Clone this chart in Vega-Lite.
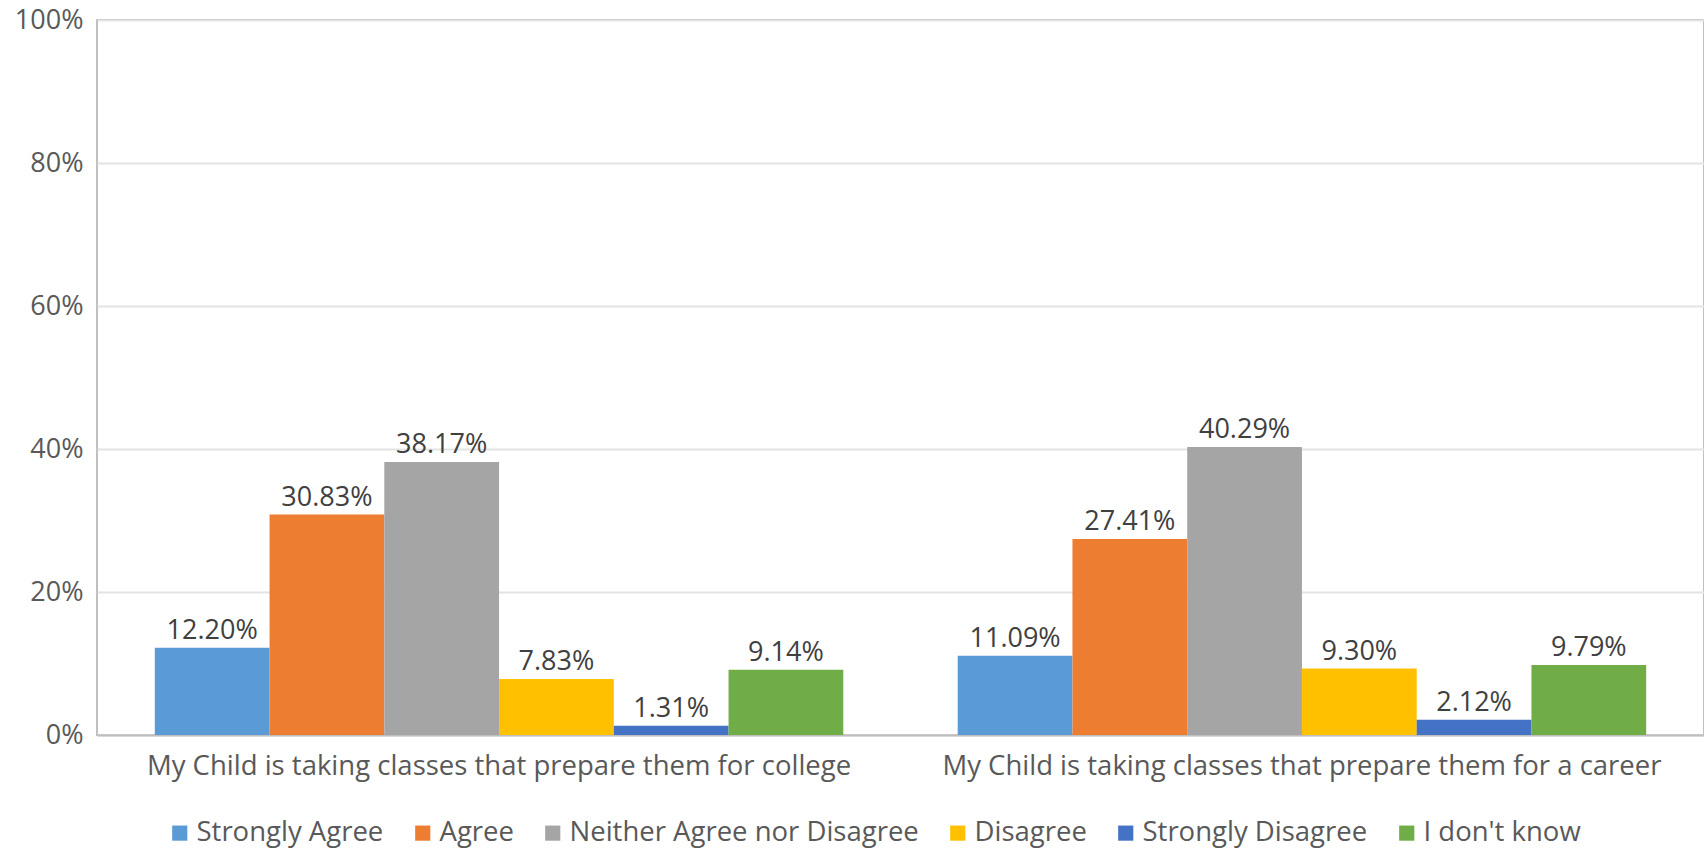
{
  "$schema": "https://vega.github.io/schema/vega-lite/v6.json",
  "width": 1607,
  "height": 715,
  "autosize": {"type": "none"},
  "padding": {"left": 97, "top": 20, "right": 0, "bottom": 114},
  "background": "white",
  "config": {
    "font": "Open Sans",
    "view": {"stroke": "#bfbfbf", "strokeWidth": 2}
  },
  "data": {
    "values": [
      {"q": "My Child is taking classes that prepare them for college", "r": "Strongly Agree", "v": 0.1220},
      {"q": "My Child is taking classes that prepare them for college", "r": "Agree", "v": 0.3083},
      {"q": "My Child is taking classes that prepare them for college", "r": "Neither Agree nor Disagree", "v": 0.3817},
      {"q": "My Child is taking classes that prepare them for college", "r": "Disagree", "v": 0.0783},
      {"q": "My Child is taking classes that prepare them for college", "r": "Strongly Disagree", "v": 0.0131},
      {"q": "My Child is taking classes that prepare them for college", "r": "I don't know", "v": 0.0914},
      {"q": "My Child is taking classes that prepare them for a career", "r": "Strongly Agree", "v": 0.1109},
      {"q": "My Child is taking classes that prepare them for a career", "r": "Agree", "v": 0.2741},
      {"q": "My Child is taking classes that prepare them for a career", "r": "Neither Agree nor Disagree", "v": 0.4029},
      {"q": "My Child is taking classes that prepare them for a career", "r": "Disagree", "v": 0.0930},
      {"q": "My Child is taking classes that prepare them for a career", "r": "Strongly Disagree", "v": 0.0212},
      {"q": "My Child is taking classes that prepare them for a career", "r": "I don't know", "v": 0.0979}
    ]
  },
  "encoding": {
    "x": {
      "field": "q", "type": "nominal", "sort": null, "title": null,
      "scale": {"paddingInner": 0.1425, "paddingOuter": 0.072},
      "axis": {"labelAngle": 0, "labelFontSize": 27.5, "labelColor": "#595959", "labelPadding": 17, "labelLimit": 900, "ticks": false, "domainColor": "#bfbfbf", "domainWidth": 2}
    },
    "xOffset": {
      "field": "r", "type": "nominal", "sort": ["Strongly Agree", "Agree", "Neither Agree nor Disagree", "Disagree", "Strongly Disagree", "I don't know"],
      "scale": {"paddingInner": 0, "paddingOuter": 0}
    },
    "y": {
      "field": "v", "type": "quantitative", "title": null,
      "scale": {"domain": [0, 1]},
      "axis": {"format": ".0%", "values": [0, 0.2, 0.4, 0.6, 0.8, 1], "labelOverlap": false, "labelFontSize": 27, "labelColor": "#595959", "labelPadding": 14, "ticks": false, "domain": false, "gridColor": "#e3e3e3", "gridWidth": 2}
    }
  },
  "layer": [
    {
      "mark": {"type": "bar"},
      "encoding": {
        "color": {
          "field": "r", "type": "nominal", "title": null,
          "sort": ["Strongly Agree", "Agree", "Neither Agree nor Disagree", "Disagree", "Strongly Disagree", "I don't know"],
          "scale": {"domain": ["Strongly Agree", "Agree", "Neither Agree nor Disagree", "Disagree", "Strongly Disagree", "I don't know"], "range": ["#5B9BD5", "#ED7D31", "#A5A5A5", "#FFC000", "#4472C4", "#70AD47"]},
          "legend": {"orient": "none", "legendX": 69, "legendY": 799, "direction": "horizontal", "columns": 6, "symbolType": "square", "symbolSize": 230, "symbolStrokeWidth": 0, "labelFontSize": 27.5, "labelLimit": 0, "labelColor": "#595959", "columnPadding": 25, "labelOffset": 3}
        }
      }
    },
    {
      "mark": {"type": "text", "baseline": "bottom", "dy": -3, "fontSize": 27, "color": "#404040"},
      "encoding": {
        "text": {"field": "v", "type": "quantitative", "format": ".2%"}
      }
    }
  ]
}
